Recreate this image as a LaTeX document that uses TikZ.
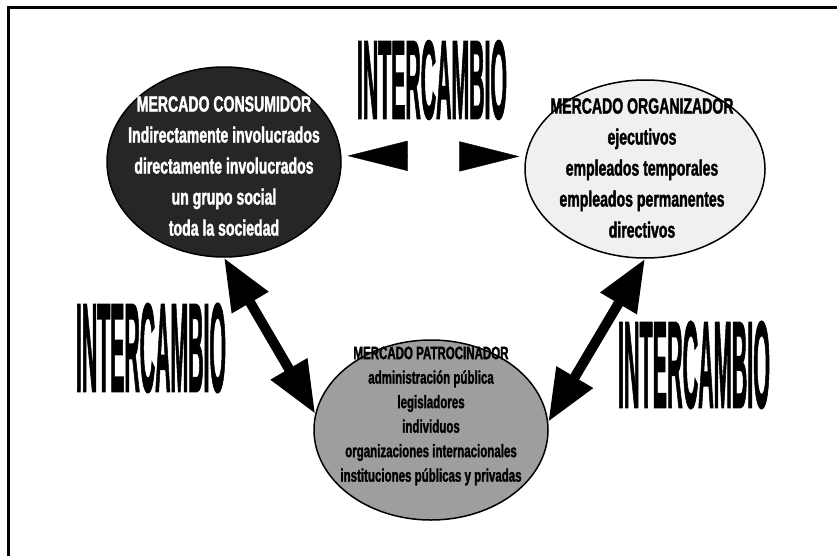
\documentclass[tikz,border=0pt]{standalone}
\usepackage{fontspec}
\newfontfamily\condfont{Liberation Sans}[FakeStretch=0.64, FakeBold=1.5]
\usetikzlibrary{shapes.geometric,arrows.meta}

\begin{document}
\begin{tikzpicture}[
        x=1pt, y=-1pt,
        market/.style={draw, ellipse, line width=1.5pt, inner sep=0pt},
        marketlabel/.style={align=center, inner sep=0pt, font=\condfont\bfseries\fontsize{22}{31}\selectfont},
        bigword/.style={inner sep=0pt, font=\condfont\bfseries},
        tradearrow/.style={line width=10pt, {Triangle[length=52pt,width=40pt]}-{Triangle[length=52pt,width=40pt]}},
        tiparrow/.style={-{Triangle[length=60pt,width=30pt]}, shorten >=6pt}
        ]
        \useasboundingbox (0,0) rectangle (837,556);
        \draw[line width=3pt] (837,8) -- (8,8) -- (8,556);

        % the three markets
        \node[market, fill=black!85, minimum width=234pt, minimum height=190pt] (cons) at (224,162) {};
        \node[market, fill=black!6, minimum width=240pt, minimum height=178pt] (orga) at (645,169) {};
        \node[market, fill=black!38, minimum width=234pt, minimum height=180pt] (patr) at (431,430) {};

        \node[marketlabel, text=white] (consText) at (224,166) {MERCADO CONSUMIDOR\\
        Indirectamente involucrados\\directamente involucrados\\un grupo social\\toda la sociedad};
        \node[marketlabel] (orgaText) at (642,168) {MERCADO ORGANIZADOR\\
        ejecutivos\\empleados temporales\\empleados permanentes\\directivos};
        \node[marketlabel, font=\condfont\bfseries\fontsize{18}{24.5}\selectfont] (patrText) at (431,416) {MERCADO PATROCINADOR\\
        administración pública\\legisladores\\individuos\\organizaciones internacionales\\instituciones públicas y privadas};

        % exchange labels
        \node[bigword] (xTop) at (432,80) {\resizebox{150pt}{78pt}{INTERCAMBIO}};
        \node[bigword] (xLeft) at (151,348) {\resizebox{150pt}{88pt}{INTERCAMBIO}};
        \node[bigword] (xRight) at (694,365) {\resizebox{152pt}{86pt}{INTERCAMBIO}};

        % arrows
        \coordinate (consTail) at ([xshift=66pt]cons.3);
        \coordinate (orgaTail) at ([xshift=-62pt]orga.174);
        \draw[tiparrow] (consTail) -- (cons.3);
        \draw[tiparrow] (orgaTail) -- (orga.174);
        \draw[tradearrow] (cons.south) -- (patr.172);
        \draw[tradearrow] (orga.south) -- (patr.4);
\end{tikzpicture}
\end{document}
